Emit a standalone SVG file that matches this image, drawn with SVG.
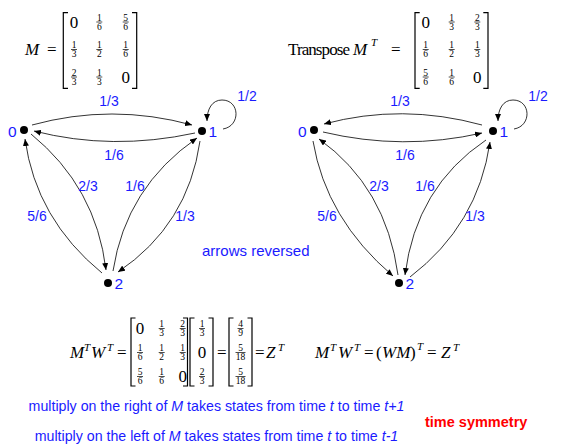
<svg xmlns="http://www.w3.org/2000/svg" width="582" height="446" viewBox="0 0 582 446">
<defs>
<marker id="ah" markerUnits="userSpaceOnUse" markerWidth="8" markerHeight="6" refX="7" refY="3" orient="auto">
<path d="M0,0 L7,3 L0,6 Z" fill="#000"/>
</marker>
<style>
.s{font-family:"Liberation Serif","Times New Roman",serif;fill:#000}
.it{font-style:italic}
.big{font-size:17px;text-anchor:middle}
.fr{font-size:9.5px;text-anchor:middle}
.sup{font-size:11px;font-style:italic}
.eq{font-size:17px}
.b{font-family:"Liberation Sans",Arial,sans-serif;fill:#1a1aff}
.lbl{font-size:14px;text-anchor:middle}
.nl{font-size:15.5px}
.e{fill:none;stroke:#000;stroke-width:0.8}
.br{fill:none;stroke:#000;stroke-width:1.2}
.bar{stroke:#000;stroke-width:0.7}
.dot{fill:#000}
</style>
</defs>
<rect width="582" height="446" fill="#fff"/>

<!-- Top-left matrix M -->
<g id="matrix-M">
<text class="s eq it" x="25" y="55">M</text>
<text class="s eq" x="47" y="55">=</text>
<path class="br" d="M68,12.7 H63.3 V88.3 H68"/>
<path class="br" d="M132,12.7 H136.7 V88.3 H132"/>
<text class="s big" x="74" y="27.8">0</text>
<text class="s fr" x="99.3" y="20.5">1</text><line class="bar" x1="96.3" y1="22" x2="102.3" y2="22"/><text class="s fr" x="99.3" y="29.5">6</text>
<text class="s fr" x="125.7" y="20.5">5</text><line class="bar" x1="122.7" y1="22" x2="128.7" y2="22"/><text class="s fr" x="125.7" y="29.5">6</text>
<text class="s fr" x="74" y="48">1</text><line class="bar" x1="71" y1="49.5" x2="77" y2="49.5"/><text class="s fr" x="74" y="57">3</text>
<text class="s fr" x="99.3" y="48">1</text><line class="bar" x1="96.3" y1="49.5" x2="102.3" y2="49.5"/><text class="s fr" x="99.3" y="57">2</text>
<text class="s fr" x="125.7" y="48">1</text><line class="bar" x1="122.7" y1="49.5" x2="128.7" y2="49.5"/><text class="s fr" x="125.7" y="57">6</text>
<text class="s fr" x="74" y="75.5">2</text><line class="bar" x1="71" y1="77" x2="77" y2="77"/><text class="s fr" x="74" y="84.5">3</text>
<text class="s fr" x="99.3" y="75.5">1</text><line class="bar" x1="96.3" y1="77" x2="102.3" y2="77"/><text class="s fr" x="99.3" y="84.5">3</text>
<text class="s big" x="125.7" y="82.8">0</text>
</g>

<!-- Top-right matrix M^T -->
<g id="matrix-MT">
<text class="s eq" x="288" y="55" textLength="62">Transpose</text>
<text class="s eq it" x="353" y="55">M</text>
<text class="s sup" x="371" y="46">T</text>
<text class="s eq" x="391" y="55">=</text>
<path class="br" d="M419.7,12.7 H415 V88.3 H419.7"/>
<path class="br" d="M483.3,12.7 H488 V88.3 H483.3"/>
<text class="s big" x="425.7" y="27.8">0</text>
<text class="s fr" x="451.7" y="20.5">1</text><line class="bar" x1="448.7" y1="22" x2="454.7" y2="22"/><text class="s fr" x="451.7" y="29.5">3</text>
<text class="s fr" x="477.3" y="20.5">2</text><line class="bar" x1="474.3" y1="22" x2="480.3" y2="22"/><text class="s fr" x="477.3" y="29.5">3</text>
<text class="s fr" x="425.7" y="48">1</text><line class="bar" x1="422.7" y1="49.5" x2="428.7" y2="49.5"/><text class="s fr" x="425.7" y="57">6</text>
<text class="s fr" x="451.7" y="48">1</text><line class="bar" x1="448.7" y1="49.5" x2="454.7" y2="49.5"/><text class="s fr" x="451.7" y="57">2</text>
<text class="s fr" x="477.3" y="48">1</text><line class="bar" x1="474.3" y1="49.5" x2="480.3" y2="49.5"/><text class="s fr" x="477.3" y="57">3</text>
<text class="s fr" x="425.7" y="75.5">5</text><line class="bar" x1="422.7" y1="77" x2="428.7" y2="77"/><text class="s fr" x="425.7" y="84.5">6</text>
<text class="s fr" x="451.7" y="75.5">1</text><line class="bar" x1="448.7" y1="77" x2="454.7" y2="77"/><text class="s fr" x="451.7" y="84.5">6</text>
<text class="s big" x="477.3" y="82.8">0</text>
</g>

<!-- Connectors -->
<g id="connectors">
<!-- left graph -->
<path class="e" marker-end="url(#ah)" d="M32,125 Q112,103 192,125"/>
<path class="e" marker-end="url(#ah)" d="M195,133 Q112,151 34,131"/>
<path class="e" marker-end="url(#ah)" d="M31,134 Q96,187 106,270"/>
<path class="e" marker-end="url(#ah)" d="M102,273 Q36,219 25,139"/>
<path class="e" marker-end="url(#ah)" d="M113,271 Q126,187 197,138"/>
<path class="e" marker-end="url(#ah)" d="M200,141 Q188,225 118,272"/>
<path class="e" marker-end="url(#ah)" d="M223,129 C241,126 240,100 222,100 C212,100 207,109 207,121"/>
<!-- right graph -->
<path class="e" marker-end="url(#ah)" d="M482,125 Q402,103 324,124"/>
<path class="e" marker-end="url(#ah)" d="M323,132 Q403,151 482,133"/>
<path class="e" marker-end="url(#ah)" d="M398,275 Q386,187 319,139"/>
<path class="e" marker-end="url(#ah)" d="M313,141 Q326,219 393,276"/>
<path class="e" marker-end="url(#ah)" d="M486,140 Q416,187 405,275"/>
<path class="e" marker-end="url(#ah)" d="M410,277 Q478,225 490,142"/>
<path class="e" marker-end="url(#ah)" d="M514,129 C532,126 531,100 513,100 C503,100 498,109 498,121"/>
</g>

<!-- edge labels -->
<g id="edge-labels">
<text class="b lbl" x="109" y="106">1/3</text>
<text class="b lbl" x="114" y="160">1/6</text>
<text class="b lbl" x="88" y="191">2/3</text>
<text class="b lbl" x="135" y="191">1/6</text>
<text class="b lbl" x="37" y="221">5/6</text>
<text class="b lbl" x="185" y="221">1/3</text>
<text class="b lbl" x="247" y="101">1/2</text>
<text class="b lbl" x="400" y="106">1/3</text>
<text class="b lbl" x="405" y="160">1/6</text>
<text class="b lbl" x="379" y="191">2/3</text>
<text class="b lbl" x="425" y="191">1/6</text>
<text class="b lbl" x="327" y="221">5/6</text>
<text class="b lbl" x="475" y="221">1/3</text>
<text class="b lbl" x="538" y="101">1/2</text>
</g>

<!-- nodes left -->
<g id="L0"><circle class="dot" cx="24" cy="130" r="4"/><text class="b nl" x="8" y="137">0</text></g>
<g id="L1"><circle class="dot" cx="202" cy="131" r="4"/><text class="b nl" x="208.5" y="137">1</text></g>
<g id="L2"><circle class="dot" cx="108" cy="283" r="4"/><text class="b nl" x="114.5" y="289">2</text></g>
<!-- nodes right -->
<g id="R0"><circle class="dot" cx="314" cy="130" r="4"/><text class="b nl" x="298" y="137">0</text></g>
<g id="R1"><circle class="dot" cx="493" cy="131" r="4"/><text class="b nl" x="499.5" y="137">1</text></g>
<g id="R2"><circle class="dot" cx="399" cy="283" r="4"/><text class="b nl" x="405.5" y="289">2</text></g>

<text class="b" x="202" y="256" font-size="15">arrows reversed</text>

<!-- bottom equation -->
<g id="equation">
<text class="s eq it" x="70" y="358">M</text>
<text class="s sup" x="84" y="351">T</text>
<text class="s eq it" x="91" y="358">W</text>
<text class="s sup" x="107" y="351">T</text>
<text class="s eq" x="117" y="358">=</text>
<path class="br" d="M135.5,318 H131 V386 H135.5"/>
<path class="br" d="M183,318 H187.5 V386 H183"/>
<text class="s big" x="140" y="334">0</text>
<text class="s fr" x="161.7" y="327">1</text><line class="bar" x1="158.7" y1="328.5" x2="164.7" y2="328.5"/><text class="s fr" x="161.7" y="336">3</text>
<text class="s fr" x="182.7" y="327">2</text><line class="bar" x1="179.7" y1="328.5" x2="185.7" y2="328.5"/><text class="s fr" x="182.7" y="336">3</text>
<text class="s fr" x="140" y="351">1</text><line class="bar" x1="137" y1="352.5" x2="143" y2="352.5"/><text class="s fr" x="140" y="360">6</text>
<text class="s fr" x="161.7" y="351">1</text><line class="bar" x1="158.7" y1="352.5" x2="164.7" y2="352.5"/><text class="s fr" x="161.7" y="360">2</text>
<text class="s fr" x="182.7" y="351">1</text><line class="bar" x1="179.7" y1="352.5" x2="185.7" y2="352.5"/><text class="s fr" x="182.7" y="360">3</text>
<text class="s fr" x="140" y="375">5</text><line class="bar" x1="137" y1="376.5" x2="143" y2="376.5"/><text class="s fr" x="140" y="384">6</text>
<text class="s fr" x="161.7" y="375">1</text><line class="bar" x1="158.7" y1="376.5" x2="164.7" y2="376.5"/><text class="s fr" x="161.7" y="384">6</text>
<text class="s big" x="182.7" y="382.3">0</text>

<path class="br" d="M194.5,318 H190 V386 H194.5"/>
<path class="br" d="M208.5,318 H213 V386 H208.5"/>
<text class="s fr" x="202" y="327">1</text><line class="bar" x1="199" y1="328.5" x2="205" y2="328.5"/><text class="s fr" x="202" y="336">3</text>
<text class="s big" x="202" y="358.3">0</text>
<text class="s fr" x="202" y="375">2</text><line class="bar" x1="199" y1="376.5" x2="205" y2="376.5"/><text class="s fr" x="202" y="384">3</text>

<text class="s eq" x="217" y="358">=</text>
<path class="br" d="M233.5,318 H229 V386 H233.5"/>
<path class="br" d="M247.5,318 H252 V386 H247.5"/>
<text class="s fr" x="240.5" y="327">4</text><line class="bar" x1="237.5" y1="328.5" x2="243.5" y2="328.5"/><text class="s fr" x="240.5" y="336">9</text>
<text class="s fr" x="240.5" y="351">5</text><line class="bar" x1="235.5" y1="352.5" x2="245.5" y2="352.5"/><text class="s fr" x="240.5" y="360">18</text>
<text class="s fr" x="240.5" y="375">5</text><line class="bar" x1="235.5" y1="376.5" x2="245.5" y2="376.5"/><text class="s fr" x="240.5" y="384">18</text>
<text class="s eq" x="255" y="358">=</text>
<text class="s eq it" x="266" y="358">Z</text>
<text class="s sup" x="278" y="351">T</text>
</g>

<g id="equation2">
<text class="s eq it" x="315" y="358">M</text>
<text class="s sup" x="330" y="351">T</text>
<text class="s eq it" x="338" y="358">W</text>
<text class="s sup" x="354" y="351">T</text>
<text class="s eq" x="364" y="358">=</text>
<text class="s eq" x="376" y="358">(</text>
<text class="s eq it" x="382" y="358">WM</text>
<text class="s eq" x="410" y="358">)</text>
<text class="s sup" x="417" y="350">T</text>
<text class="s eq" x="427" y="358">=</text>
<text class="s eq it" x="441" y="358">Z</text>
<text class="s sup" x="453" y="351">T</text>
</g>

<text class="b" x="216.5" y="411" font-size="14.2" text-anchor="middle">multiply on the right of <tspan font-style="italic">M</tspan> takes states from time <tspan font-style="italic">t</tspan> to time <tspan font-style="italic">t+1</tspan></text>
<text class="b" x="216.5" y="441" font-size="14.2" text-anchor="middle">multiply on the left of <tspan font-style="italic">M</tspan> takes states from time <tspan font-style="italic">t</tspan> to time <tspan font-style="italic">t-1</tspan></text>
<text x="425" y="427" font-family="Liberation Sans, Arial, sans-serif" font-size="14.5" font-weight="bold" fill="#ff0000">time symmetry</text>
</svg>
